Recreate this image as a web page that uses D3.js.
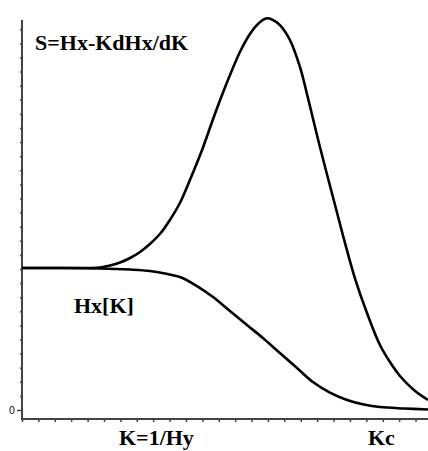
<!DOCTYPE html>
<html>
<head>
<meta charset="utf-8">
<script src="https://cdn.jsdelivr.net/npm/d3@7"></script>
<style>
  html, body { margin: 0; padding: 0; background: #fff; }
  svg { display: block; }
</style>
</head>
<body>
<svg id="chart" width="428" height="451"></svg>
<script>
// Data (x and y in axis tick units)
const hxK = [0, 2.32, 4.76, 6.59, 7.80, 8.72, 9.63, 10.67, 11.65, 12.68, 13.72, 14.76, 15.73, 16.77, 17.74, 18.78, 19.82, 20.85, 21.83, 23.29, 24.76];
const hxV = [10.07, 10.07, 10.04, 9.96, 9.86, 9.68, 9.43, 8.79, 8.01, 7.02, 6.03, 5.04, 4.04, 2.98, 1.98, 1.23, 0.71, 0.39, 0.21, 0.11, 0.04];

const sK = [0, 2.32, 4.76, 5.37, 5.98, 6.59, 7.20, 7.80, 8.41, 9.02, 9.63, 10.24, 10.98, 11.77, 12.56, 13.29, 13.90, 14.39, 14.88, 15.24, 15.73, 16.34, 16.95, 17.44, 18.17, 19.09, 19.70, 20.30, 21.04, 21.83, 22.44, 23.05, 23.90, 24.76];
const sV = [10.07, 10.07, 10.11, 10.25, 10.46, 10.78, 11.21, 11.77, 12.48, 13.48, 14.68, 16.31, 18.44, 21.01, 23.40, 25.39, 26.67, 27.38, 27.77, 27.70, 27.30, 26.24, 24.33, 22.13, 18.65, 14.54, 11.84, 9.36, 6.88, 4.61, 3.40, 2.41, 1.42, 0.71];

const xTicks = d3.range(0, 25);
const yTicks = d3.range(0, 28);
const yTickLabels = ["0"];

const labels = [
  {text: "S=Hx-KdHx/dK", x: 35, y: 50},
  {text: "Hx[K]", x: 74, y: 313},
  {text: "K=1/Hy", x: 119, y: 445},
  {text: "Kc", x: 368, y: 445}
];

const svg = d3.select("#chart");
const x = d3.scaleLinear().domain([0, 24.76]).range([22, 428]);
const y = d3.scaleLinear().domain([0, 27.66]).range([410, 20]);

// axes
const axisColor = "#444";
svg.append("line").attr("x1", 22).attr("x2", 22).attr("y1", 20).attr("y2", 420)
  .attr("stroke", axisColor).attr("stroke-width", 2);
svg.append("line").attr("x1", 21).attr("x2", 428).attr("y1", 419).attr("y2", 419)
  .attr("stroke", axisColor).attr("stroke-width", 2);

const yAxis = d3.axisLeft(y).tickValues(yTicks).tickSize(2)
  .tickFormat(d => d === 0 ? yTickLabels[0] : "");
const gy = svg.append("g").attr("transform", "translate(22,0)").call(yAxis);
gy.select(".domain").remove();
gy.selectAll(".tick line").attr("stroke", axisColor).attr("stroke-width", 1.5);
gy.selectAll(".tick").filter(d => d === 0).select("line").attr("x2", -5);
gy.selectAll(".tick text").attr("x", -7).attr("font-family", "DejaVu Sans, sans-serif")
  .attr("font-size", 10).attr("fill", "#222");

const xAxis = d3.axisBottom(x).tickValues(xTicks).tickSize(3).tickFormat("");
const gx = svg.append("g").attr("transform", "translate(0,419)").call(xAxis);
gx.select(".domain").remove();
gx.selectAll(".tick line").attr("stroke", axisColor).attr("stroke-width", 1.5);

// curves
const line = d3.line().x(d => x(d[0])).y(d => y(d[1])).curve(d3.curveCatmullRom.alpha(0.5));
svg.append("path").datum(hxK.map((k, i) => [k, hxV[i]]))
  .attr("d", line).attr("fill", "none").attr("stroke", "#000").attr("stroke-width", 2.6);
svg.append("path").datum(sK.map((k, i) => [k, sV[i]]))
  .attr("d", line).attr("fill", "none").attr("stroke", "#000").attr("stroke-width", 2.6);

// labels
svg.selectAll("text.lbl").data(labels).enter().append("text")
  .attr("class", "lbl")
  .attr("x", d => d.x).attr("y", d => d.y)
  .attr("font-family", "Liberation Serif, Times New Roman, serif")
  .attr("font-weight", "bold").attr("font-size", 22).attr("fill", "#000")
  .text(d => d.text);
</script>
</body>
</html>
